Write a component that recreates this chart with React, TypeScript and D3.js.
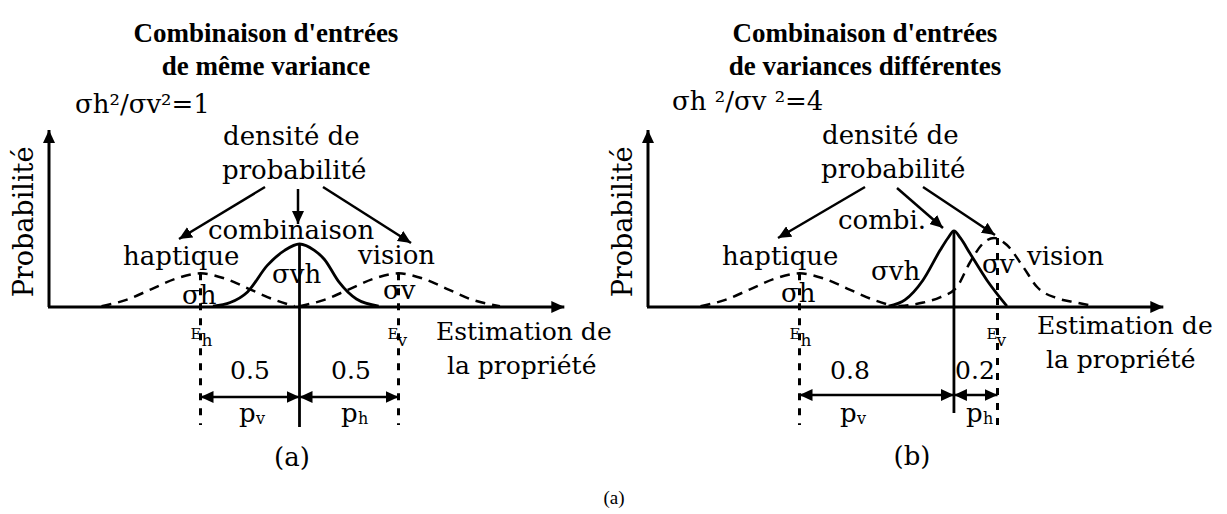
import React from "react";
import * as d3 from "d3";

// ---------- data ----------
const X_DOMAIN: [number, number] = [0, 10];
const Y_DOMAIN: [number, number] = [0, 1];

// Panel (a): equal variances
const hapticXA = [1.0, 1.5, 2.0, 2.5, 3.0, 3.5, 4.0, 4.5, 4.9];
const hapticYA = [0.005, 0.04, 0.1, 0.16, 0.19, 0.16, 0.1, 0.04, 0.005];
const visionXA = [5.0, 5.5, 6.0, 6.5, 7.0, 7.5, 8.0, 8.5, 9.05];
const visionYA = [0.005, 0.04, 0.1, 0.16, 0.19, 0.16, 0.1, 0.04, 0.005];
const combXA = [3.25, 3.6, 3.95, 4.35, 4.7, 5.0, 5.3, 5.5, 5.8, 6.15, 6.6];
const combYA = [0.005, 0.025, 0.085, 0.235, 0.32, 0.356, 0.32, 0.27, 0.14, 0.045, 0.005];
const estimatesA = [3, 7, 5]; // E_h, E_v, combined
const weightsA = ["0.5", "0.5"];

// Panel (b): different variances
const hapticXB = [1.0, 1.5, 2.0, 2.5, 3.0, 3.5, 4.0, 4.5, 4.9];
const hapticYB = [0.005, 0.04, 0.1, 0.16, 0.19, 0.16, 0.1, 0.04, 0.005];
const visionXB = [5.0, 5.5, 5.85, 6.18, 6.44, 6.71, 6.93, 7.19, 7.52, 7.8, 8.2, 8.6, 8.95];
const visionYB = [0.005, 0.025, 0.056, 0.113, 0.25, 0.36, 0.39, 0.35, 0.226, 0.113, 0.05, 0.025, 0.005];
const combXB = [4.8, 5.13, 5.49, 5.84, 6.0, 6.12, 6.25, 6.44, 6.79, 7.19];
const combYB = [0.005, 0.04, 0.15, 0.32, 0.39, 0.43, 0.39, 0.305, 0.15, 0.005];
const estimatesB = [3, 7, 6.12];
const weightsB = ["0.8", "0.2"];

const titlesA = ["Combinaison d'entrées", "de même variance"];
const titlesB = ["Combinaison d'entrées", "de variances différentes"];
const ratioLabels = ["σh²/σv²=1", "σh ²/σv ²=4"];
const captions = ["(a)", "(b)"];
const figureCaption = "(a)";

const FONT = "'DejaVu Serif', serif";
const TITLE_FONT = "'Liberation Serif', serif";
const zip = (xs: number[], ys: number[]) => xs.map((v, i) => [v, ys[i]] as [number, number]);

const x = d3.scaleLinear().domain(X_DOMAIN).range([52, 547]);
const y = d3.scaleLinear().domain(Y_DOMAIN).range([307, 130]);
const line = d3
  .line<[number, number]>()
  .x((d) => x(d[0]))
  .y((d) => y(d[1]))
  .curve(d3.curveMonotoneX);

type PanelProps = {
  dx: number;
  haptic: [number, number][];
  vision: [number, number][];
  comb: [number, number][];
  est: number[];
  weights: string[];
  titles: string[];
  ratio: string;
  caption: string;
  variant: "a" | "b";
};

function Panel(p: PanelProps) {
  const [eh, ev, ec] = p.est;
  const hPeak = d3.max(p.haptic, (d) => d[1]) as number;
  const vPeak = d3.max(p.vision, (d) => d[1]) as number;
  const cPeak = d3.max(p.comb, (d) => d[1]) as number;
  const t = { fontFamily: FONT, fontSize: 26, fill: "#000" } as const;
  const tt = { fontFamily: TITLE_FONT, fontSize: 27, fontWeight: "bold", fill: "#000" } as const;
  const a = p.variant === "a";
  const arrowY = a ? 397 : 395;
  const combBottom = a ? 427 : 413;
  const wCenters = a ? [250, 351] : [251, 376];
  const pX = a ? [239, 341] : [241, 367];
  return (
    <g transform={`translate(${p.dx},0)`}>
      {/* titles */}
      <text x={266} y={42} textAnchor="middle" style={tt}>
        {p.titles[0]}
      </text>
      <text x={266} y={75} textAnchor="middle" style={tt}>
        {p.titles[1]}
      </text>
      <text x={a ? 75 : 73} y={a ? 113 : 110} style={t}>
        {p.ratio}
      </text>
      <text x={223} y={a ? 145 : 144} style={t}>
        densité de
      </text>
      <text x={222} y={a ? 179 : 178} style={t}>
        probabilité
      </text>

      {/* y label */}
      <text transform="translate(33,222) rotate(-90)" textAnchor="middle" style={{ ...t, fontSize: 27 }}>
        Probabilité
      </text>

      {/* axes */}
      <line x1={x(0) - 3} y1={y(0)} x2={x(0) - 3} y2={y(1)} stroke="#000" strokeWidth={3} markerEnd="url(#ah)" />
      <line x1={x(0) - 4} y1={y(0)} x2={x(10.35)} y2={y(0)} stroke="#000" strokeWidth={3} markerEnd="url(#ah)" />

      {/* dotted estimate lines */}
      <line x1={x(eh)} x2={x(eh)} y1={y(hPeak)} y2={425} stroke="#000" strokeWidth={3} strokeDasharray="7,8" />
      <line x1={x(ev)} x2={x(ev)} y1={y(vPeak)} y2={425} stroke="#000" strokeWidth={3} strokeDasharray="7,8" />

      {/* curves */}
      <path d={line(p.haptic) || ""} fill="none" stroke="#000" strokeWidth={2.5} strokeDasharray="10,7" />
      <path d={line(p.vision) || ""} fill="none" stroke="#000" strokeWidth={2.5} strokeDasharray="10,7" />
      <path d={line(p.comb) || ""} fill="none" stroke="#000" strokeWidth={2.8} />
      <line x1={x(ec)} x2={x(ec)} y1={y(cPeak)} y2={combBottom} stroke="#000" strokeWidth={2.8} />

      {/* pointer arrows */}
      {a ? (
        <>
          <line x1={265} y1={187} x2={179} y2={239} stroke="#000" strokeWidth={2.5} markerEnd="url(#ah)" />
          <line x1={298} y1={189} x2={298} y2={224} stroke="#000" strokeWidth={2.5} markerEnd="url(#ah)" />
          <line x1={323} y1={187} x2={411} y2={243} stroke="#000" strokeWidth={2.5} markerEnd="url(#ah)" />
        </>
      ) : (
        <>
          <line x1={266} y1={187} x2={179} y2={238} stroke="#000" strokeWidth={2.5} markerEnd="url(#ah)" />
          <line x1={298} y1={188} x2={344} y2={228} stroke="#000" strokeWidth={2.5} markerEnd="url(#ah)" />
          <line x1={324} y1={187} x2={396} y2={235} stroke="#000" strokeWidth={2.5} markerEnd="url(#ah)" />
        </>
      )}

      {/* curve labels */}
      {a ? (
        <text x={208} y={239} style={t}>
          combinaison
        </text>
      ) : (
        <text x={239} y={229} style={t}>
          combi.
        </text>
      )}
      <text x={123} y={265} style={t}>
        haptique
      </text>
      <text x={a ? 358 : 428} y={a ? 264 : 265} style={t}>
        vision
      </text>
      <text x={a ? 272 : 272} y={a ? 283 : 280} style={t}>
        σvh
      </text>
      <text x={182} y={a ? 304 : 302} style={t}>
        σh
      </text>
      <text x={383} y={a ? 299 : 273} style={t}>
        σv
      </text>

      {/* E labels */}
      <text x={x(eh) - 10} y={339} style={{ ...t, fontSize: 15 }}>
        E
      </text>
      <text x={x(eh) + 1} y={346} style={{ ...t, fontSize: 17 }}>
        h
      </text>
      <text x={x(ev) - 11} y={339} style={{ ...t, fontSize: 15 }}>
        E
      </text>
      <text x={x(ev) - 1} y={346} style={{ ...t, fontSize: 17 }}>
        v
      </text>

      {/* weights */}
      <text x={wCenters[0]} y={379} textAnchor="middle" style={{ ...t, fontSize: 25 }}>
        {p.weights[0]}
      </text>
      <text x={wCenters[1]} y={379} textAnchor="middle" style={{ ...t, fontSize: 25 }}>
        {p.weights[1]}
      </text>
      <line x1={x(eh)} x2={x(ec)} y1={arrowY} y2={arrowY} stroke="#000" strokeWidth={2.5} markerStart="url(#ah)" markerEnd="url(#ah)" />
      <line x1={x(ec)} x2={x(ev)} y1={arrowY} y2={arrowY} stroke="#000" strokeWidth={2.5} markerStart="url(#ah)" markerEnd="url(#ah)" />

      <text x={pX[0]} y={422} style={t}>
        p
      </text>
      <text x={pX[0] + 17} y={424} style={{ ...t, fontSize: 16 }}>
        v
      </text>
      <text x={pX[1]} y={422} style={t}>
        p
      </text>
      <text x={pX[1] + 17} y={424} style={{ ...t, fontSize: 16 }}>
        h
      </text>

      <text x={a ? 292 : 313} y={a ? 466 : 465} textAnchor="middle" style={t}>
        {p.caption}
      </text>

      {/* x label */}
      <text x={a ? 436 : 438} y={a ? 340 : 334} style={{ ...t, fontSize: 25 }}>
        Estimation de
      </text>
      <text x={447} y={a ? 374 : 368} style={{ ...t, fontSize: 25 }}>
        la propriété
      </text>
    </g>
  );
}

export default function App() {
  return (
    <svg width={1227} height={514} style={{ position: "absolute", left: 0, top: 0, background: "#fff" }}>
      <defs>
        <marker
          id="ah"
          markerUnits="userSpaceOnUse"
          markerWidth={13}
          markerHeight={12}
          refX={13}
          refY={6}
          orient="auto-start-reverse"
        >
          <path d="M0,0 L13,6 L0,12 Z" fill="#000" />
        </marker>
      </defs>
      <rect width={1227} height={514} fill="#fff" />
      <Panel
        dx={0}
        haptic={zip(hapticXA, hapticYA)}
        vision={zip(visionXA, visionYA)}
        comb={zip(combXA, combYA)}
        est={estimatesA}
        weights={weightsA}
        titles={titlesA}
        ratio={ratioLabels[0]}
        caption={captions[0]}
        variant="a"
      />
      <Panel
        dx={599}
        haptic={zip(hapticXB, hapticYB)}
        vision={zip(visionXB, visionYB)}
        comb={zip(combXB, combYB)}
        est={estimatesB}
        weights={weightsB}
        titles={titlesB}
        ratio={ratioLabels[1]}
        caption={captions[1]}
        variant="b"
      />
      <text x={614} y={504} textAnchor="middle" style={{ fontFamily: "'Liberation Serif', serif", fontSize: 19 }}>
        {figureCaption}
      </text>
    </svg>
  );
}
